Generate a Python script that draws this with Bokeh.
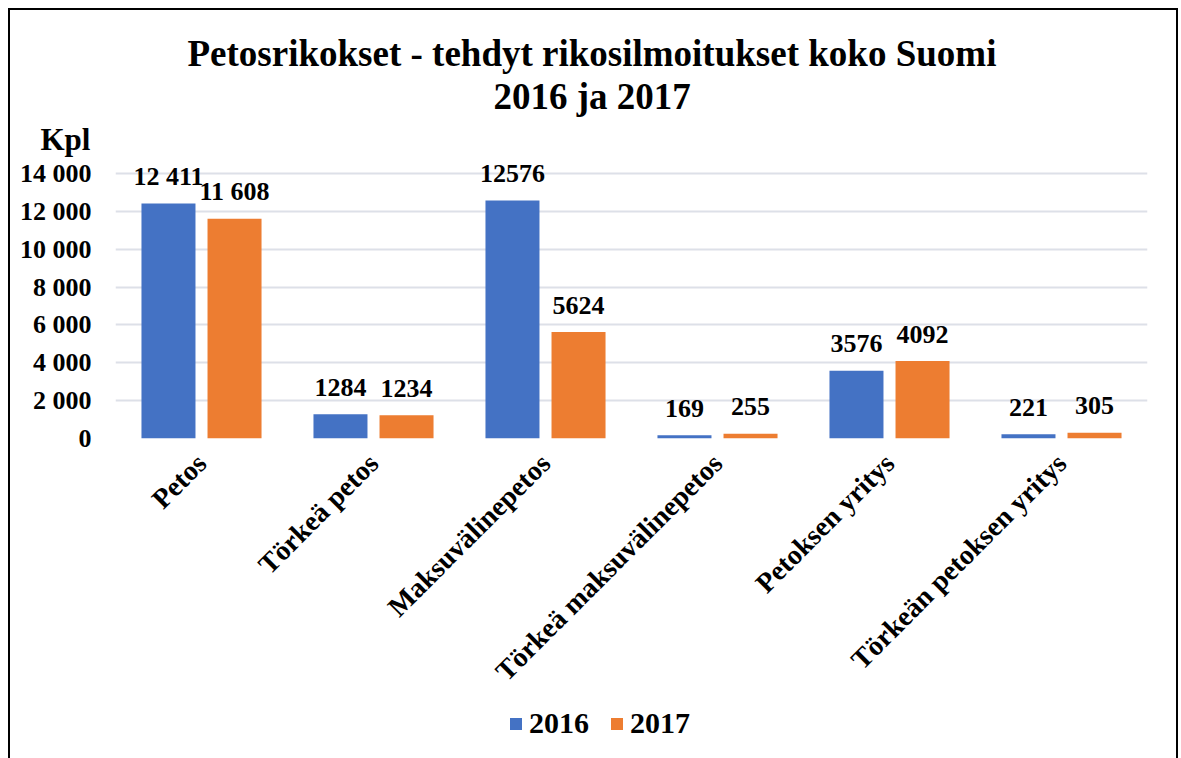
import math
from bokeh.plotting import figure
from bokeh.layouts import column
from bokeh.models import (FactorRange, Range1d, FixedTicker, Title, Legend,
                          LegendItem, ColumnDataSource)
from bokeh.transform import dodge
from bokeh.core.properties import value
from bokeh.embed import file_html
from bokeh.resources import INLINE

categories = ["Petos", "Törkeä petos", "Maksuvälinepetos", "Törkeä maksuvälinepetos",
              "Petoksen yritys", "Törkeän petoksen yritys"]
values_2016 = [12411, 1284, 12576, 169, 3576, 221]
values_2017 = [11608, 1234, 5624, 255, 4092, 305]
labels_2016 = ["12 411", "1284", "12576", "169", "3576", "221"]
labels_2017 = ["11 608", "1234", "5624", "255", "4092", "305"]
y_ticks = [0, 2000, 4000, 6000, 8000, 10000, 12000, 14000]
y_tick_labels = ["0", "2 000", "4 000", "6 000", "8 000", "10 000", "12 000", "14 000"]
series_names = ["2016", "2017"]

FONT = "Liberation Serif"
BLUE = "#4472C4"
ORANGE = "#ED7D31"

src = ColumnDataSource(dict(cat=categories, v16=values_2016, v17=values_2017,
                            l16=labels_2016, l17=labels_2017))

p = figure(x_range=FactorRange(*categories), y_range=Range1d(0, 14740),
           width=1166, height=690, output_backend="svg", toolbar_location=None,
           min_border_left=105, min_border_right=29, min_border_top=149,
           min_border_bottom=262)
p.outline_line_color = None
p.background_fill_color = "white"
p.border_fill_color = "white"

off = 0.192
w = 0.314
p.vbar(x=dodge("cat", -off, range=p.x_range), top="v16", width=w, source=src,
       fill_color=BLUE, line_color=None)
p.vbar(x=dodge("cat", off, range=p.x_range), top="v17", width=w, source=src,
       fill_color=ORANGE, line_color=None)

for col, lab, d in (("v16", "l16", -off), ("v17", "l17", off)):
    p.text(x=dodge("cat", d, range=p.x_range), y=col, text=lab, source=src,
           text_font=value(FONT), text_font_style="bold", text_font_size="26px",
           text_align="center", text_baseline="alphabetic", y_offset=-27,
           text_color="black")

# axes
p.yaxis.ticker = FixedTicker(ticks=y_ticks)
p.yaxis.major_label_overrides = {t: s for t, s in zip(y_ticks, y_tick_labels)}
for ax in (p.xaxis[0], p.yaxis[0]):
    ax.axis_line_color = None
    ax.major_tick_line_color = None
    ax.minor_tick_line_color = None
    ax.major_label_text_font = FONT
    ax.major_label_text_font_style = "bold"
    ax.major_label_text_color = "black"
p.yaxis.major_label_text_font_size = "26px"
p.xaxis.major_label_text_font_size = "28px"
p.yaxis.major_label_standoff = 18
p.xaxis.major_label_orientation = math.pi / 4
p.xaxis.major_label_standoff = 14

p.xgrid.grid_line_color = None
p.ygrid.grid_line_color = "#DDE0E8"
p.ygrid.grid_line_width = 2

# titles (first added = closest to the frame)
p.add_layout(Title(text="Kpl", align="left", offset=-75, text_font=FONT,
                   text_font_size="31px", text_font_style="bold", text_color="black",
                   standoff=6), "above")
p.add_layout(Title(text="2016 ja 2017", align="left", offset=378, text_font=FONT,
                   text_font_size="37px", text_font_style="bold", text_color="black",
                   standoff=0), "above")
p.add_layout(Title(text="Petosrikokset - tehdyt rikosilmoitukset koko Suomi", align="left",
                   offset=72, text_font=FONT, text_font_size="37px",
                   text_font_style="bold", text_color="black", standoff=0), "above")

# legend strip below the chart (zero-size proxy renderers carry the legend colours)
lg = figure(width=1166, height=58, x_range=Range1d(0, 1), y_range=Range1d(0, 1),
            output_backend="svg", toolbar_location=None,
            min_border=0, min_border_left=0, min_border_right=0,
            min_border_top=0, min_border_bottom=0)
lg.axis.visible = False
lg.grid.grid_line_color = None
lg.outline_line_color = None
lg.border_fill_color = "white"
proxy = ColumnDataSource(dict(x=[0], top=[0]))
lr16 = lg.vbar(x="x", top="top", width=0, source=proxy, fill_color=BLUE, line_color=None)
lr17 = lg.vbar(x="x", top="top", width=0, source=proxy, fill_color=ORANGE, line_color=None)
legend = Legend(items=[LegendItem(label=series_names[0], renderers=[lr16]),
                       LegendItem(label=series_names[1], renderers=[lr17])],
                orientation="horizontal", location=(393, 18),
                label_text_font=FONT, label_text_font_size="30px",
                label_text_font_style="bold", label_text_color="black",
                glyph_width=15, glyph_height=15,
                padding=0, margin=0, spacing=20, label_standoff=6,
                border_line_color=None, background_fill_alpha=0)
lg.add_layout(legend, "center")

layout = column(p, lg, spacing=0,
                styles={"border-left": "2px solid #000", "border-top": "2px solid #000",
                        "border-right": "2px solid #000", "margin-left": "8px",
                        "margin-top": "8px"})

open("out.html", "w").write(file_html(layout, INLINE))
